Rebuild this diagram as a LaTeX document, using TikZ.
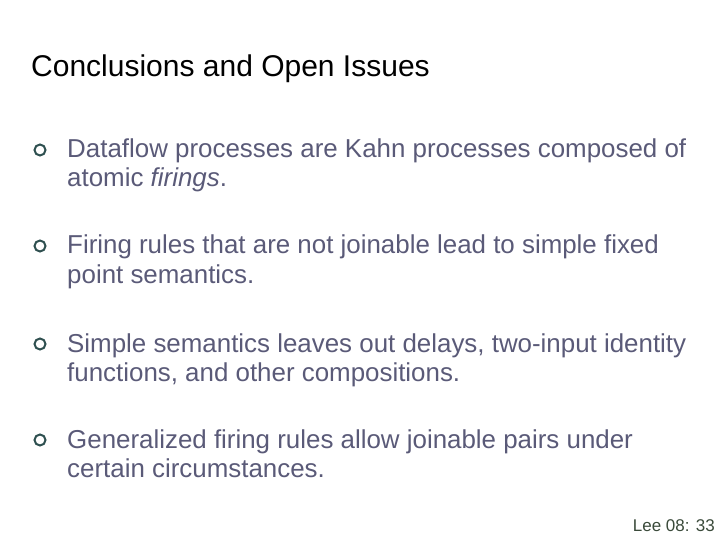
\documentclass[tikz,border=0pt]{standalone}
\usepackage{fontspec}
\setmainfont{Liberation Sans}
\definecolor{bodytxt}{HTML}{5A5A78}
\definecolor{bul}{HTML}{2F5050}
\definecolor{foot}{HTML}{3A4A3A}
\begin{document}
\begin{tikzpicture}[x=1pt,y=-1pt,
  body/.style={anchor=base west,inner sep=0pt,text=bodytxt,font=\fontsize{25.9}{29}\selectfont},
  bull/.style={circle,draw=bul,line width=2pt,minimum size=11pt,inner sep=0pt}]
\useasboundingbox (0,0) rectangle (720,540);
\node[anchor=base west,inner sep=0pt,font=\fontsize{30}{35}\selectfont] (title) at (31,77) {Conclusions and Open Issues};
\foreach \n/\y/\a/\b in {1/158/{Dataflow processes are Kahn processes composed of}/{atomic \textit{firings}.},
  2/254/{Firing rules that are not joinable lead to simple fixed}/{point semantics.},
  3/352/{Simple semantics leaves out delays, two-input identity}/{functions, and other compositions.},
  4/448/{Generalized firing rules allow joinable pairs under}/{certain circumstances.}}{
  \node[bull] (b\n) at (40,\y-8) {};
  \node[body] (l\n a) at (67,\y) {\a};
  \node[body] (l\n b) at (67,\y+29) {\b};
}
\node[anchor=base east,inner sep=0pt,text=foot,font=\fontsize{17}{20}\selectfont] (foot) at (715,531) {Lee 08: 33};
\end{tikzpicture}
\end{document}
